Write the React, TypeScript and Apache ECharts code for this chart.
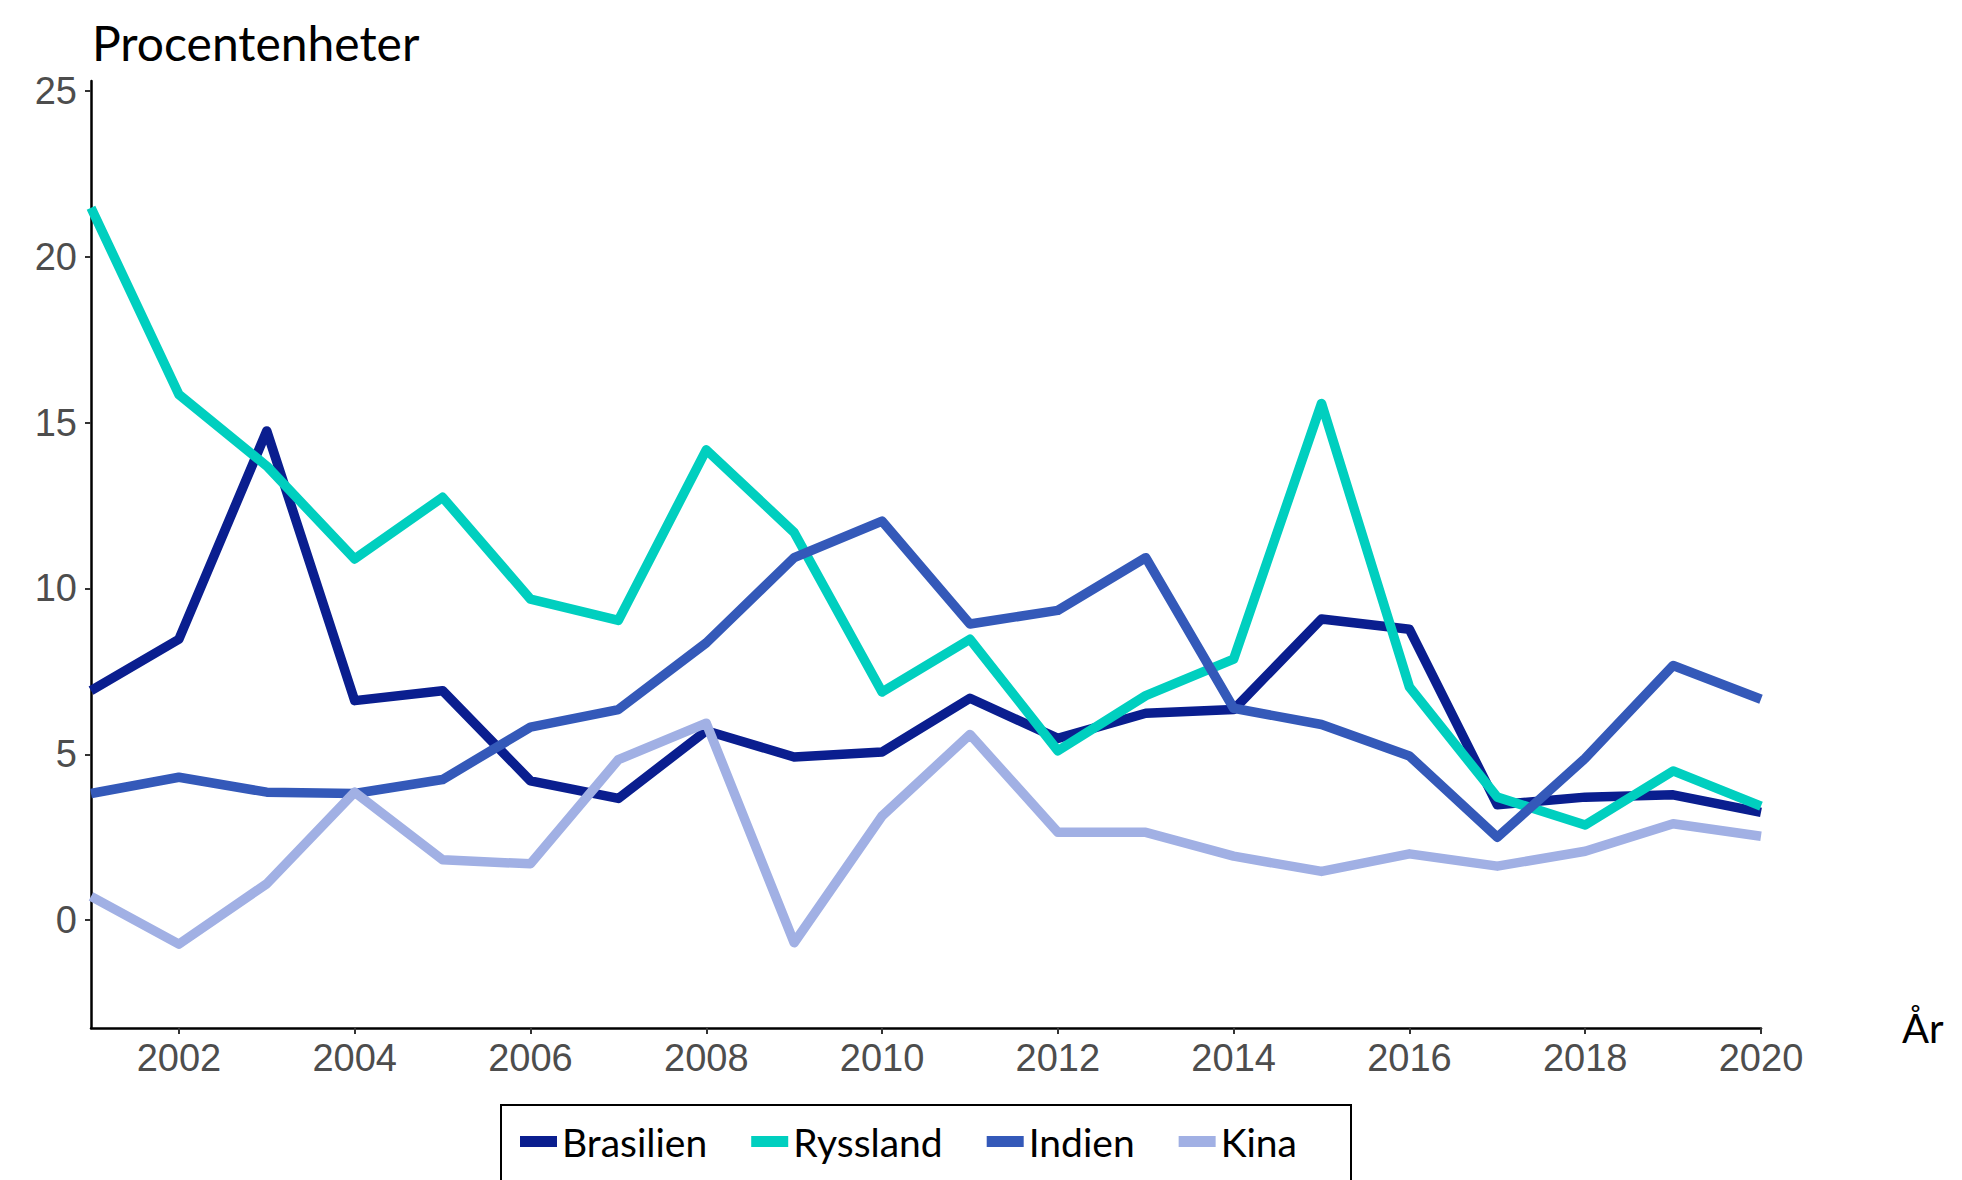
import React, { useEffect, useRef } from "react";
import * as echarts from "echarts";

const years = [2001, 2002, 2003, 2004, 2005, 2006, 2007, 2008, 2009, 2010, 2011, 2012, 2013, 2014, 2015, 2016, 2017, 2018, 2019, 2020];
const brasilien = [6.92, 8.47, 14.75, 6.62, 6.92, 4.2, 3.67, 5.71, 4.92, 5.07, 6.69, 5.48, 6.24, 6.35, 9.08, 8.77, 3.48, 3.71, 3.78, 3.25];
const ryssland = [21.48, 15.85, 13.69, 10.89, 12.75, 9.68, 9.04, 14.18, 11.69, 6.88, 8.47, 5.11, 6.77, 7.87, 15.58, 7.03, 3.71, 2.87, 4.5, 3.44];
const indien = [3.82, 4.31, 3.86, 3.82, 4.24, 5.82, 6.35, 8.36, 10.93, 12.03, 8.93, 9.34, 10.93, 6.39, 5.9, 4.95, 2.5, 4.88, 7.68, 6.66];
const kina = [0.72, -0.72, 1.1, 3.86, 1.82, 1.7, 4.84, 5.94, -0.68, 3.14, 5.6, 2.65, 2.65, 1.93, 1.47, 2.0, 1.63, 2.08, 2.91, 2.53];

const seriesNames = ["Brasilien", "Ryssland", "Indien", "Kina"];
const seriesColors = ["#0a1e8f", "#00cfbf", "#3459b9", "#a1b0e4"];
const seriesValues = [brasilien, ryssland, indien, kina];

const xTicks = [2002, 2004, 2006, 2008, 2010, 2012, 2014, 2016, 2018, 2020];
const yTicks = [0, 5, 10, 15, 20, 25];

const yTitle = "Procentenheter";
const xTitle = "År";

export default function App() {
  const ref = useRef<HTMLDivElement>(null);
  useEffect(() => {
    if (!ref.current) return;
    const chart = echarts.init(ref.current, null, { renderer: "svg" });
    const option = {
      animation: false,
      backgroundColor: "#ffffff",
      grid: { left: 91, right: 201, top: 81, bottom: 152, containLabel: false },
      xAxis: {
        type: "value",
        min: 2001,
        max: 2020,
        name: xTitle,
        nameLocation: "end",
        nameGap: 141,
        nameTextStyle: { fontFamily: "Lato", fontSize: 40, color: "#000000", verticalAlign: "middle" },
        axisLine: { show: true, onZero: false, lineStyle: { color: "#000000", width: 2.5 } },
        axisTick: { show: true, length: 6, customValues: xTicks, lineStyle: { color: "#333333", width: 2 } },
        axisLabel: {
          customValues: xTicks,
          margin: 11,
          fontFamily: "Liberation Sans",
          fontSize: 38,
          color: "#4d4d4d",
          formatter: (v: number) => String(v),
        },
        splitLine: { show: false },
      },
      yAxis: {
        type: "value",
        min: -3.25,
        max: 25.3,
        axisLine: { show: true, onZero: false, lineStyle: { color: "#000000", width: 2.5 } },
        axisTick: { show: true, length: 6, customValues: yTicks, lineStyle: { color: "#333333", width: 2 } },
        axisLabel: {
          customValues: yTicks,
          margin: 14,
          fontFamily: "Liberation Sans",
          fontSize: 38,
          color: "#4d4d4d",
        },
        splitLine: { show: false },
      },
      legend: {
        left: 520,
        top: 1122,
        padding: 0,
        icon: "rect",
        itemWidth: 37,
        itemHeight: 11,
        itemGap: 44,
        textStyle: { fontFamily: "Lato", fontSize: 39, color: "#000000" },
        data: seriesNames,
      },
      graphic: [
        {
          type: "rect",
          shape: { x: 501, y: 1105, width: 850, height: 120 },
          style: { fill: "none", stroke: "#000000", lineWidth: 2 },
          silent: true,
        },
        {
          type: "text",
          x: 92,
          y: 42.5,
          style: { text: yTitle, font: "48px Lato", fill: "#000000", verticalAlign: "middle", align: "left" },
          silent: true,
        },
      ],
      series: seriesNames.map((name, i) => ({
        name,
        type: "line",
        data: years.map((y, j) => [y, seriesValues[i][j]]),
        symbol: "none",
        color: seriesColors[i],
        lineStyle: { color: seriesColors[i], width: 9.5, cap: "butt", join: "round" },
      })),
    };
    chart.setOption(option as any);
    return () => chart.dispose();
  }, []);
  return (
    <div
      ref={ref}
      style={{ position: "fixed", left: 0, top: 0, width: 1962, height: 1180, background: "#fff" }}
    />
  );
}
